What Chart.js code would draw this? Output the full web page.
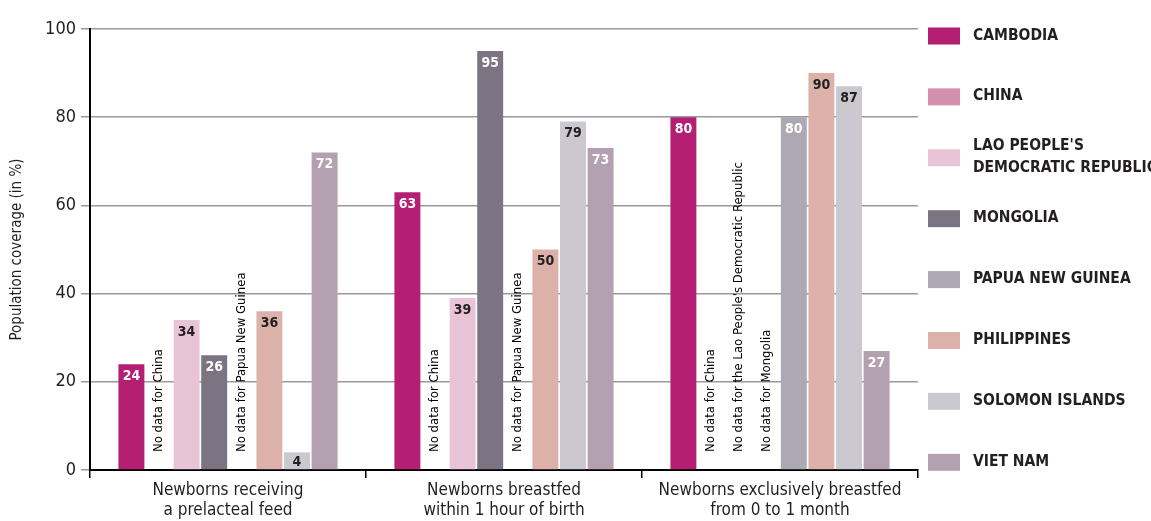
<!DOCTYPE html>
<html>
<head>
<meta charset="utf-8">
<script src="https://cdn.jsdelivr.net/npm/chart.js@4"></script>
<style>
	body { margin: 0; background: #fff; }
</style>
</head>
<body>
<canvas id="chart" width="1151" height="521"></canvas>
<script>
// groups on the x axis
var groupLabels = [
	["Newborns receiving", "a prelacteal feed"],
	["Newborns breastfed", "within 1 hour of birth"],
	["Newborns exclusively breastfed", "from 0 to 1 month"]
];

var countryNames = [
	"CAMBODIA", "CHINA", ["LAO PEOPLE'S", "DEMOCRATIC REPUBLIC"], "MONGOLIA",
	"PAPUA NEW GUINEA", "PHILIPPINES", "SOLOMON ISLANDS", "VIET NAM"
];

// values in %, null = no data
var cambodia    = [24, 63, 80];
var china       = [null, null, null];
var laoPdr      = [34, 39, null];
var mongolia    = [26, 95, null];
var papuaNG     = [null, null, 80];
var philippines = [36, 50, 90];
var solomon     = [4, 79, 87];
var vietNam     = [72, 73, 27];

// notes written in the empty slots: [group, country index, text]
var noDataNotes = [
	[0, 1, "No data for China"],
	[0, 4, "No data for Papua New Guinea"],
	[1, 1, "No data for China"],
	[1, 4, "No data for Papua New Guinea"],
	[2, 1, "No data for China"],
	[2, 2, "No data for the Lao People's Democratic Republic"],
	[2, 3, "No data for Mongolia"]
];

var yTicks = [0, 20, 40, 60, 80, 100];

var barColors = ['#b51f73', '#d38fae', '#e8c4d6', '#7c7383', '#aca8b4', '#dbb1aa', '#cbc8cf', '#b3a0b1'];
var valueColors = ['#fff', '#231f20', '#231f20', '#fff', '#fff', '#231f20', '#231f20', '#fff'];

var FONT = "'Liberation Sans Narrow', 'DejaVu Sans Condensed', 'Roboto Condensed', sans-serif";
var TEXT = '#231f20';

var allValues = [cambodia, china, laoPdr, mongolia, papuaNG, philippines, solomon, vietNam];

var datasets = [];
for (var i = 0; i < allValues.length; i++) {
	datasets.push({
		label: countryNames[i],
		data: allValues[i],
		backgroundColor: barColors[i],
		borderWidth: 0,
		categoryPercentage: 0.8,
		barPercentage: 0.94
	});
}

var labelsPlugin = {
	id: 'labels',
	afterDatasetsDraw: function(chart) {
		var ctx = chart.ctx;
		var base = chart.scales.y.getPixelForValue(0);
		ctx.save();
		// values at the top of each bar
		ctx.font = 'bold 14px ' + FONT;
		ctx.textAlign = 'center';
		ctx.textBaseline = 'middle';
		chart.data.datasets.forEach(function(ds, d) {
			var meta = chart.getDatasetMeta(d);
			ds.data.forEach(function(v, i) {
				if (v === null) return;
				var bar = meta.data[i];
				ctx.fillStyle = valueColors[d];
				var y = bar.y + 12;
				if (base - bar.y < 22) y = (bar.y + base) / 2 + 1;
				ctx.fillText(String(v), bar.x, y);
			});
		});
		// rotated notes
		ctx.font = '13px ' + FONT;
		ctx.fillStyle = '#000';
		ctx.textAlign = 'left';
		noDataNotes.forEach(function(n) {
			var x = chart.getDatasetMeta(n[1]).data[n[0]].x;
			ctx.save();
			ctx.translate(x, base - 18);
			ctx.rotate(-Math.PI / 2);
			ctx.fillText(n[2], 0, 0);
			ctx.restore();
		});
		ctx.restore();
	}
};

var legendPlugin = {
	id: 'sideLegend',
	afterDraw: function(chart) {
		var ctx = chart.ctx;
		ctx.save();
		ctx.font = 'bold 15.5px ' + FONT;
		ctx.textBaseline = 'middle';
		ctx.textAlign = 'left';
		chart.data.datasets.forEach(function(ds, d) {
			var cy = 35.5 + d * 60.9;
			ctx.fillStyle = ds.backgroundColor;
			ctx.fillRect(928, cy - 8, 32, 17);
			ctx.fillStyle = TEXT;
			if (Array.isArray(ds.label)) {
				ctx.fillText(ds.label[0], 973, cy - 11);
				ctx.fillText(ds.label[1], 973, cy + 11);
			} else {
				ctx.fillText(ds.label, 973, cy);
			}
		});
		ctx.restore();
	}
};

new Chart(document.getElementById('chart'), {
	type: 'bar',
	data: {
		labels: groupLabels,
		datasets: datasets
	},
	options: {
		responsive: false,
		animation: false,
		layout: { padding: { top: 29, right: 233, left: 0, bottom: 0 } },
		plugins: {
			legend: { display: false },
			tooltip: { enabled: false }
		},
		scales: {
			x: {
				grid: { drawOnChartArea: false, color: '#000', lineWidth: 1.5, tickLength: 8, offset: true },
				border: { color: '#000', width: 2 },
				ticks: { font: { family: FONT, size: 17 }, color: TEXT, padding: 2 },
				afterFit: function(s) { s.height = 51; }
			},
			y: {
				min: 0,
				max: 100,
				afterBuildTicks: function(s) { s.ticks = yTicks.map(function(v) { return { value: v }; }); },
				grid: { color: '#9a9a9a', lineWidth: 1.5, tickLength: 9 },
				border: { color: '#000', width: 2 },
				ticks: { font: { family: FONT, size: 18 }, color: TEXT, padding: 5 },
				title: { display: true, text: 'Population coverage (in %)', font: { family: FONT, size: 15 }, color: TEXT, padding: { top: 8, bottom: 0 } },
				afterFit: function(s) { s.width = 90; }
			}
		}
	},
	plugins: [labelsPlugin, legendPlugin]
});
</script>
</body>
</html>
